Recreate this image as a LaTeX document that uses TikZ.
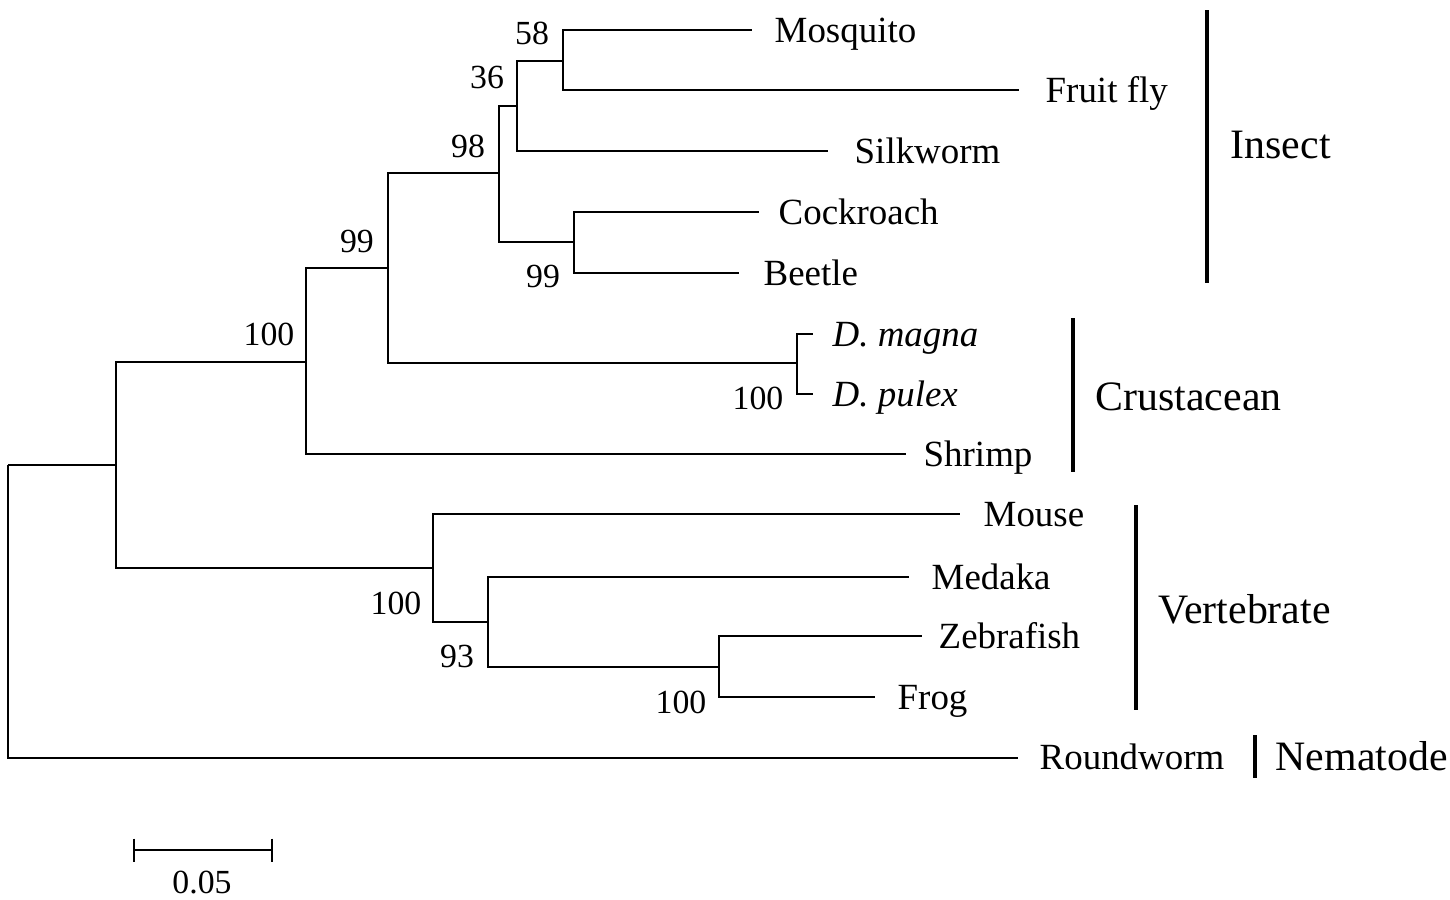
\documentclass[tikz,border=0pt]{standalone}
\usepackage{fontspec}
\setmainfont{Liberation Serif}
\usepackage{tikz}
\usetikzlibrary{positioning}

\begin{document}
\begin{tikzpicture}[x=0.01cm, y=-0.01cm,
				branch/.style={draw=black, line width=0.7pt},
				cladebar/.style={draw=black, line width=1.3pt},
				taxon/.style={anchor=base west, inner sep=0pt, font=\fontsize{10.5}{12}\selectfont},
				clade/.style={anchor=base west, inner sep=0pt, font=\fontsize{11.9}{14}\selectfont},
				boot/.style={inner sep=0pt, font=\fontsize{9.6}{12}\selectfont},
			]
			\useasboundingbox (0,0) rectangle (1450,899);
			% internal nodes
			\coordinate (root) at (8,465);
			\coordinate (nA)   at (116,465);
			\coordinate (nB)   at (306,362);
			\coordinate (nC)   at (388,268);
			\coordinate (nD)   at (499,173);
			\coordinate (nE)   at (517,106);
			\coordinate (nF)   at (563,61);
			\coordinate (nG)   at (574,242);
			\coordinate (nDap) at (797,363);
			\coordinate (nV)   at (433,568);
			\coordinate (nW)   at (488,622);
			\coordinate (nX)   at (719,667);
			% branch tips
			\coordinate (mosq-e) at (752,30);
			\coordinate (fly-e)  at (1019,90);
			\coordinate (silk-e) at (828,151);
			\coordinate (cock-e) at (759,212);
			\coordinate (beet-e) at (739,273);
			\coordinate (dmag-e) at (813,334);
			\coordinate (dpul-e) at (813,394);
			\coordinate (shri-e) at (906,454);
			\coordinate (mous-e) at (960,514);
			\coordinate (meda-e) at (909,577);
			\coordinate (zebr-e) at (922,636);
			\coordinate (frog-e) at (875,697);
			\coordinate (rndw-e) at (1018,758);
			\draw[branch] (root) |- (nA);
			\draw[branch] (root) |- (rndw-e);
			\draw[branch] (nA) |- (nB);
			\draw[branch] (nA) |- (nV);
			\draw[branch] (nB) |- (nC);
			\draw[branch] (nB) |- (shri-e);
			\draw[branch] (nC) |- (nD);
			\draw[branch] (nC) |- (nDap);
			\draw[branch] (nD) |- (nE);
			\draw[branch] (nD) |- (nG);
			\draw[branch] (nE) |- (nF);
			\draw[branch] (nE) |- (silk-e);
			\draw[branch] (nF) |- (mosq-e);
			\draw[branch] (nF) |- (fly-e);
			\draw[branch] (nG) |- (cock-e);
			\draw[branch] (nG) |- (beet-e);
			\draw[branch] (nDap) |- (dmag-e);
			\draw[branch] (nDap) |- (dpul-e);
			\draw[branch] (nV) |- (mous-e);
			\draw[branch] (nV) |- (nW);
			\draw[branch] (nW) |- (meda-e);
			\draw[branch] (nW) |- (nX);
			\draw[branch] (nX) |- (zebr-e);
			\draw[branch] (nX) |- (frog-e);
			% taxa
			\node[taxon] (mosq) at (774,42)   {Mosquito};
			\node[taxon] (fly)  at (1045,102) {Fruit fly};
			\node[taxon] (silk) at (854,163)  {Silkworm};
			\node[taxon] (cock) at (778,224)  {Cockroach};
			\node[taxon] (beet) at (763,285)  {Beetle};
			\node[taxon] (dmag) at (832,346)  {\textit{D. magna}};
			\node[taxon] (dpul) at (832,406)  {\textit{D. pulex}};
			\node[taxon] (shri) at (923,466)  {Shrimp};
			\node[taxon] (mous) at (983,526)  {Mouse};
			\node[taxon] (meda) at (931,589)  {Medaka};
			\node[taxon] (zebr) at (938,648)  {Zebrafish};
			\node[taxon] (frog) at (897,709)  {Frog};
			\node[taxon] (rndw) at (1039,769) {Roundworm};
			% bootstrap values
			\node[boot] (bF)   at (532,33)  {58};
			\node[boot] (bE)   at (487,77)  {36};
			\node[boot] (bD)   at (468,146) {98};
			\node[boot] (bC)   at (357,241) {99};
			\node[boot] (bB)   at (269,334) {100};
			\node[boot] (bG)   at (543,276) {99};
			\node[boot] (bDap) at (758,398) {100};
			\node[boot] (bV)   at (396,603) {100};
			\node[boot] (bW)   at (457,656) {93};
			\node[boot] (bX)   at (681,702) {100};
			% clades
			\draw[cladebar] (1207,10) -- (1207,283);
			\node[clade] (insect) at (1230,158) {Insect};
			\draw[cladebar] (1073,318) -- (1073,472);
			\node[clade] (crust) at (1095,410) {Crustacean};
			\draw[cladebar] (1136,505) -- (1136,710);
			\node[clade] (vert) at (1158,623) {Vertebrate};
			\draw[cladebar] (1255,735) -- (1255,778);
			\node[clade] (nema) at (1275,770) {Nematode};
			% scale bar
			\coordinate (sbL) at (134,850);
			\coordinate (sbR) at (272,850);
			\draw[branch] (sbL) -- (sbR);
			\draw[branch] ([yshift=0.115cm]sbL) -- ([yshift=-0.115cm]sbL);
			\draw[branch] ([yshift=0.115cm]sbR) -- ([yshift=-0.115cm]sbR);
			\node[boot] (sblbl) at (202,883) {0.05};
		\end{tikzpicture}
\end{document}
